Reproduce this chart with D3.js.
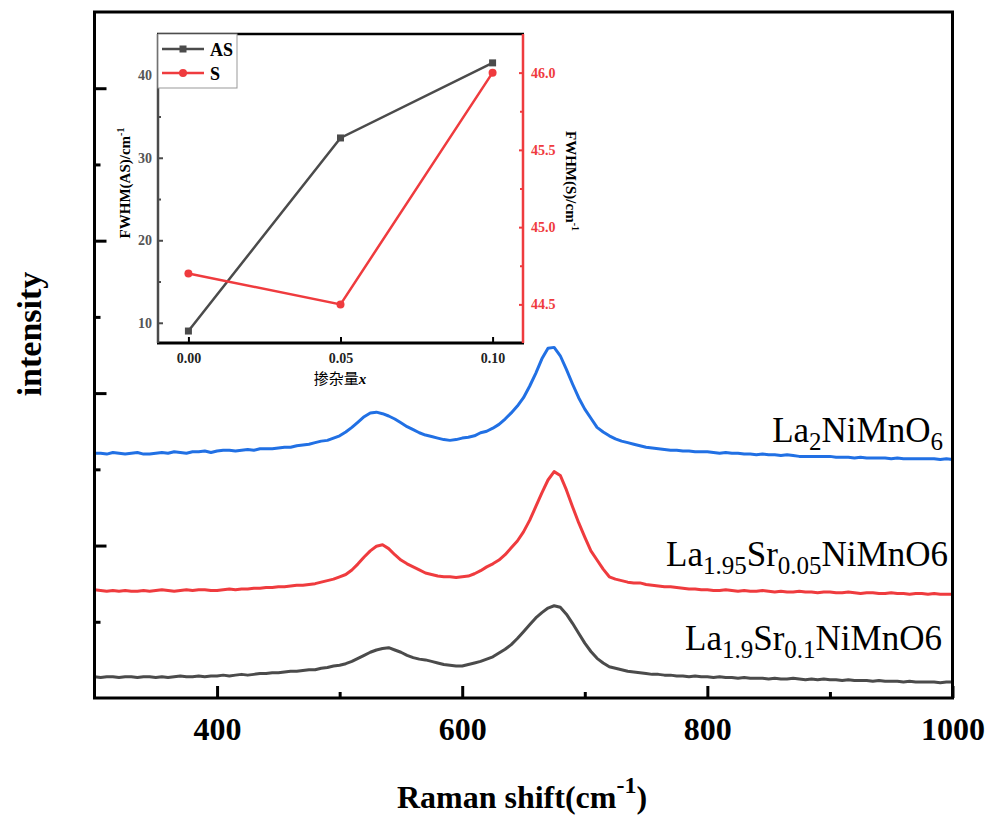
<!DOCTYPE html>
<html lang="en">
<head>
  <meta charset="utf-8" />
  <title>Raman spectra - La2NiMnO6 Sr doped</title>
  <script src="https://cdnjs.cloudflare.com/ajax/libs/d3/7.8.5/d3.min.js"></script>
  <style>
    html, body { margin: 0; padding: 0; background: #fff; }
    svg { display: block; font-family: "Liberation Serif", "Times New Roman", serif; }
    .axis path.domain { display: none; }
    .axis line { stroke-linecap: butt; }
  </style>
</head>
<body>
<svg id="chart" width="997" height="816"></svg>
<script>
  const serif = "'Liberation Serif', 'Times New Roman', serif";

  // wavenumber grid, cm-1
  const ramanShift = d3.range(300, 1001, 5);

  // intensity (a.u., stacked offsets as plotted)
  const intensityLNMO = [
    3.21,3.21,3.20,3.22,3.21,3.20,3.21,3.22,3.20,3.20,
    3.21,3.22,3.21,3.23,3.22,3.21,3.23,3.23,3.24,3.22,
    3.24,3.25,3.25,3.24,3.25,3.26,3.25,3.27,3.27,3.27,
    3.28,3.29,3.29,3.31,3.32,3.33,3.35,3.37,3.38,3.41,
    3.44,3.49,3.55,3.62,3.69,3.74,3.75,3.73,3.70,3.66,
    3.61,3.56,3.52,3.48,3.45,3.43,3.41,3.39,3.38,3.39,
    3.41,3.42,3.44,3.48,3.50,3.54,3.59,3.66,3.74,3.83,
    3.94,4.09,4.26,4.45,4.59,4.60,4.49,4.31,4.12,3.94,
    3.79,3.67,3.55,3.49,3.44,3.40,3.37,3.35,3.33,3.31,
    3.29,3.28,3.27,3.26,3.25,3.25,3.24,3.24,3.23,3.23,
    3.23,3.22,3.21,3.22,3.21,3.21,3.20,3.20,3.19,3.20,
    3.19,3.19,3.18,3.19,3.18,3.17,3.17,3.17,3.17,3.17,
    3.17,3.16,3.16,3.16,3.15,3.16,3.15,3.15,3.15,3.15,
    3.14,3.15,3.14,3.14,3.14,3.14,3.14,3.14,3.13,3.14,
    3.13
  ];
  const intensitySr005 = [
    1.42,1.41,1.40,1.41,1.40,1.41,1.40,1.40,1.41,1.40,
    1.41,1.42,1.41,1.40,1.41,1.42,1.41,1.42,1.42,1.41,
    1.41,1.42,1.43,1.42,1.43,1.43,1.44,1.44,1.45,1.45,
    1.46,1.46,1.47,1.48,1.48,1.49,1.50,1.52,1.54,1.56,
    1.59,1.62,1.68,1.76,1.85,1.93,1.99,2.01,1.96,1.88,
    1.81,1.76,1.72,1.68,1.64,1.62,1.60,1.59,1.59,1.58,
    1.59,1.60,1.63,1.67,1.72,1.76,1.81,1.88,1.97,2.06,
    2.18,2.33,2.51,2.69,2.86,2.97,2.92,2.73,2.51,2.30,
    2.11,1.93,1.81,1.69,1.59,1.56,1.54,1.52,1.51,1.51,
    1.49,1.48,1.47,1.46,1.46,1.45,1.44,1.43,1.43,1.42,
    1.42,1.41,1.41,1.42,1.41,1.40,1.41,1.40,1.40,1.41,
    1.40,1.39,1.40,1.39,1.39,1.40,1.39,1.39,1.38,1.39,
    1.39,1.38,1.38,1.39,1.38,1.37,1.38,1.38,1.37,1.37,
    1.38,1.37,1.37,1.36,1.37,1.37,1.36,1.37,1.36,1.36,
    1.36
  ];
  const intensitySr01 = [
    0.28,0.27,0.28,0.28,0.27,0.28,0.28,0.27,0.28,0.28,
    0.27,0.28,0.27,0.28,0.29,0.28,0.28,0.29,0.28,0.29,
    0.29,0.30,0.29,0.30,0.31,0.30,0.31,0.32,0.32,0.33,
    0.33,0.34,0.35,0.35,0.36,0.37,0.37,0.39,0.40,0.42,
    0.43,0.45,0.48,0.52,0.56,0.60,0.63,0.65,0.66,0.63,
    0.60,0.56,0.53,0.51,0.50,0.48,0.46,0.44,0.43,0.42,
    0.42,0.44,0.46,0.48,0.51,0.54,0.59,0.64,0.70,0.78,
    0.87,0.96,1.05,1.12,1.18,1.21,1.19,1.10,0.98,0.85,
    0.72,0.61,0.52,0.46,0.41,0.39,0.37,0.35,0.34,0.33,
    0.32,0.31,0.31,0.30,0.30,0.29,0.29,0.28,0.29,0.28,
    0.28,0.27,0.28,0.27,0.27,0.26,0.27,0.26,0.26,0.26,
    0.25,0.26,0.25,0.25,0.26,0.25,0.24,0.25,0.24,0.25,
    0.24,0.24,0.23,0.24,0.23,0.23,0.23,0.22,0.23,0.22,
    0.22,0.22,0.21,0.22,0.21,0.21,0.21,0.21,0.20,0.21,
    0.21
  ];

  const xMajorTicks = [400, 600, 800, 1000];
  const xMinorTicks = [500, 700, 900];
  const yMajorTicks = [2, 4, 6, 8];
  const yMinorTicks = [1, 3, 5, 7];

  // inset: FWHM vs doping amount
  const dopingX = [0, 0.05, 0.10];
  const fwhmAS = [9.0, 32.4, 41.5];
  const fwhmS = [44.7, 44.5, 46.0];
  const insetXTicks = [0, 0.05, 0.10];
  const insetASTicks = [10, 20, 30, 40];
  const insetASMinor = [15, 25, 35];
  const insetSTicks = [44.5, 45.0, 45.5, 46.0];
  const insetSMinor = [44.75, 45.25, 45.75];

  const colBlue = "#2170e4", colRed = "#ef3b3e", colGray = "#4b4b4b";

  const svg = d3.select("#chart");

  const x = d3.scaleLinear().domain([300, 1000]).range([94.5, 952.5]);
  const y = d3.scaleLinear().domain([0, 9]).range([698, 12]);

  const series = [
    { values: intensityLNMO, color: colBlue },
    { values: intensitySr005, color: colRed },
    { values: intensitySr01, color: colGray }
  ];

  const line = d3.line()
    .x(function(d) { return x(d[0]); })
    .y(function(d) { return y(d[1]); });

  series.forEach(function(s) {
    const pts = ramanShift.map(function(w, i) { return [w, s.values[i]]; })
      .filter(function(p) { return p[1] !== undefined; });
    svg.append("path")
      .datum(pts)
      .attr("fill", "none")
      .attr("stroke", s.color)
      .attr("stroke-width", 3)
      .attr("stroke-linejoin", "round")
      .attr("d", line);
  });

  // sample labels
  const labels = [
    { x: 943, y: 442, parts: [["La", 0], ["2", 1], ["NiMnO", 0], ["6", 1]] },
    { x: 948, y: 566, parts: [["La", 0], ["1.95", 1], ["Sr", 0], ["0.05", 1], ["NiMnO6", 0]] },
    { x: 942, y: 650, parts: [["La", 0], ["1.9", 1], ["Sr", 0], ["0.1", 1], ["NiMnO6", 0]] }
  ];
  labels.forEach(function(l) {
    const t = svg.append("text")
      .attr("x", l.x).attr("y", l.y)
      .attr("text-anchor", "end")
      .style("font-size", "35px")
      .attr("fill", "#000");
    let sub = 0;
    l.parts.forEach(function(p) {
      const ts = t.append("tspan").text(p[0]);
      if (p[1] && !sub) { ts.attr("dy", 8).style("font-size", "25px"); sub = 1; }
      else if (!p[1] && sub) { ts.attr("dy", -8); sub = 0; }
      else if (p[1]) { ts.style("font-size", "25px"); }
    });
  });

  // main axes
  const gx = svg.append("g").attr("class", "axis")
    .attr("transform", "translate(0,698)");
  gx.call(d3.axisBottom(x).tickValues(xMajorTicks).tickSize(-12).tickPadding(19).tickFormat(d3.format("d")));
  gx.attr("font-family", serif);
  gx.selectAll("line").attr("stroke", "#000").attr("stroke-width", 3);
  gx.selectAll("text")
    .attr("fill", "#000")
    .style("font-size", "32px")
    .style("font-weight", "bold");

  const gxm = svg.append("g").attr("class", "axis")
    .attr("transform", "translate(0,698)");
  gxm.call(d3.axisBottom(x).tickValues(xMinorTicks).tickSize(-6).tickFormat(""));
  gxm.selectAll("line").attr("stroke", "#000").attr("stroke-width", 3);

  const gy = svg.append("g").attr("class", "axis")
    .attr("transform", "translate(94.5,0)");
  gy.call(d3.axisLeft(y).tickValues(yMajorTicks).tickSize(-12).tickFormat(""));
  gy.selectAll("line").attr("stroke", "#000").attr("stroke-width", 3);

  const gym = svg.append("g").attr("class", "axis")
    .attr("transform", "translate(94.5,0)");
  gym.call(d3.axisLeft(y).tickValues(yMinorTicks).tickSize(-6).tickFormat(""));
  gym.selectAll("line").attr("stroke", "#000").attr("stroke-width", 3);

  // frame
  svg.append("rect")
    .attr("x", x(300)).attr("y", y(9))
    .attr("width", x(1000) - x(300)).attr("height", y(0) - y(9))
    .attr("fill", "none").attr("stroke", "#000").attr("stroke-width", 3);

  // axis titles
  const xt = svg.append("text")
    .attr("x", 522).attr("y", 808)
    .attr("text-anchor", "middle")
    .style("font-size", "32px").style("font-weight", "bold")
    .text("Raman shift(cm");
  xt.append("tspan").attr("dy", -15).style("font-size", "24px").text("-1");
  xt.append("tspan").attr("dy", 15).text(")");

  svg.append("text")
    .attr("transform", "translate(41,334) rotate(-90)")
    .attr("text-anchor", "middle")
    .style("font-size", "34px").style("font-weight", "bold")
    .text("intensity");

  // ---------- inset ----------
  const ix = d3.scaleLinear().domain([-0.01, 0.11]).range([158, 523]);
  const iyL = d3.scaleLinear().domain([7.55, 45]).range([343, 34]);
  const iyR = d3.scaleLinear().domain([44.25, 46.25]).range([343, 34]);

  const inset = svg.append("g");
  inset.append("rect")
    .attr("x", 158).attr("y", 34).attr("width", 365).attr("height", 309)
    .attr("fill", "#fff");

  const ia = inset.append("g").attr("class", "axis").attr("transform", "translate(0,343)");
  ia.call(d3.axisBottom(ix).tickValues(insetXTicks).tickSize(-6).tickPadding(10).tickFormat(d3.format(".2f")));
  ia.attr("font-family", serif);
  ia.selectAll("line").attr("stroke", "#000").attr("stroke-width", 2);
  ia.selectAll("text").attr("fill", "#222").style("font-size", "14px").style("font-weight", "bold");

  const il = inset.append("g").attr("class", "axis").attr("transform", "translate(158,0)");
  il.call(d3.axisLeft(iyL).tickValues(insetASTicks).tickSize(-5).tickPadding(6).tickFormat(d3.format("d")));
  il.attr("font-family", serif);
  il.selectAll("line").attr("stroke", colGray).attr("stroke-width", 2);
  il.selectAll("text").attr("fill", "#555").style("font-size", "14px").style("font-weight", "bold");
  const ilm = inset.append("g").attr("class", "axis").attr("transform", "translate(158,0)");
  ilm.call(d3.axisLeft(iyL).tickValues(insetASMinor).tickSize(-3).tickFormat(""));
  ilm.selectAll("line").attr("stroke", colGray).attr("stroke-width", 2);

  const ir = inset.append("g").attr("class", "axis").attr("transform", "translate(523,0)");
  ir.call(d3.axisRight(iyR).tickValues(insetSTicks).tickSize(-4).tickPadding(8).tickFormat(d3.format(".1f")));
  ir.attr("font-family", serif);
  ir.selectAll("line").attr("stroke", colRed).attr("stroke-width", 2);
  ir.selectAll("text").attr("fill", colRed).style("font-size", "14px").style("font-weight", "bold");
  const irm = inset.append("g").attr("class", "axis").attr("transform", "translate(523,0)");
  irm.call(d3.axisRight(iyR).tickValues(insetSMinor).tickSize(-3).tickFormat(""));
  irm.selectAll("line").attr("stroke", colRed).attr("stroke-width", 2);

  // inset frame lines
  inset.append("line").attr("x1", 157).attr("x2", 524).attr("y1", 34).attr("y2", 34)
    .attr("stroke", "#000").attr("stroke-width", 2.5);
  inset.append("line").attr("x1", 157).attr("x2", 524).attr("y1", 343).attr("y2", 343)
    .attr("stroke", "#000").attr("stroke-width", 3);
  inset.append("line").attr("x1", 158).attr("x2", 158).attr("y1", 34).attr("y2", 343)
    .attr("stroke", colGray).attr("stroke-width", 2.5);
  inset.append("line").attr("x1", 523).attr("x2", 523).attr("y1", 34).attr("y2", 343)
    .attr("stroke", colRed).attr("stroke-width", 2.5);

  // inset series
  const asPts = dopingX.map(function(d, i) { return [d, fwhmAS[i]]; });
  const sPts = dopingX.map(function(d, i) { return [d, fwhmS[i]]; });

  inset.append("path").datum(asPts)
    .attr("fill", "none").attr("stroke", colGray).attr("stroke-width", 2.5)
    .attr("d", d3.line().x(function(d) { return ix(d[0]); }).y(function(d) { return iyL(d[1]); }));
  inset.selectAll("rect.as").data(asPts).enter().append("rect")
    .attr("class", "as")
    .attr("x", function(d) { return ix(d[0]) - 3.5; })
    .attr("y", function(d) { return iyL(d[1]) - 3.5; })
    .attr("width", 7).attr("height", 7)
    .attr("fill", colGray);

  inset.append("path").datum(sPts)
    .attr("fill", "none").attr("stroke", colRed).attr("stroke-width", 2.5)
    .attr("d", d3.line().x(function(d) { return ix(d[0]); }).y(function(d) { return iyR(d[1]); }));
  inset.selectAll("circle.s").data(sPts).enter().append("circle")
    .attr("class", "s")
    .attr("cx", function(d) { return ix(d[0]); })
    .attr("cy", function(d) { return iyR(d[1]); })
    .attr("r", 4)
    .attr("fill", colRed);

  // inset axis titles
  const tl = inset.append("text")
    .attr("transform", "translate(130,183) rotate(-90)")
    .attr("text-anchor", "middle")
    .style("font-size", "15px").style("font-weight", "bold")
    .text("FWHM(AS)/cm");
  tl.append("tspan").attr("dy", -6).style("font-size", "10px").text("-1");

  const tr = inset.append("text")
    .attr("transform", "translate(566,181) rotate(90)")
    .attr("text-anchor", "middle")
    .style("font-size", "15px").style("font-weight", "bold")
    .text("FWHM(S)/cm");
  tr.append("tspan").attr("dy", -6).style("font-size", "10px").text("-1");

  const tb = inset.append("text")
    .attr("x", 340).attr("y", 384)
    .attr("text-anchor", "middle")
    .style("font-size", "15px");
  tb.append("tspan").style("font-family", "'Noto Sans CJK SC', sans-serif").text("掺杂量");
  tb.append("tspan").style("font-style", "italic").style("font-weight", "bold").text("x");

  // inset legend
  const legend = inset.append("g");
  legend.append("rect")
    .attr("x", 158).attr("y", 34).attr("width", 79).attr("height", 54)
    .attr("fill", "#fff").attr("stroke", "#999").attr("stroke-width", 1);
  const legItems = [
    { name: "AS", color: colGray, marker: "square", y: 49 },
    { name: "S", color: colRed, marker: "circle", y: 73 }
  ];
  legItems.forEach(function(it) {
    legend.append("line")
      .attr("x1", 162).attr("x2", 204).attr("y1", it.y).attr("y2", it.y)
      .attr("stroke", it.color).attr("stroke-width", 2.5);
    if (it.marker === "square") {
      legend.append("rect").attr("x", 179.5).attr("y", it.y - 3.5)
        .attr("width", 7).attr("height", 7).attr("fill", it.color);
    } else {
      legend.append("circle").attr("cx", 183).attr("cy", it.y).attr("r", 4).attr("fill", it.color);
    }
    legend.append("text")
      .attr("x", 210).attr("y", it.y + 7)
      .style("font-size", "18px").style("font-weight", "bold")
      .text(it.name);
  });
</script>
</body>
</html>
